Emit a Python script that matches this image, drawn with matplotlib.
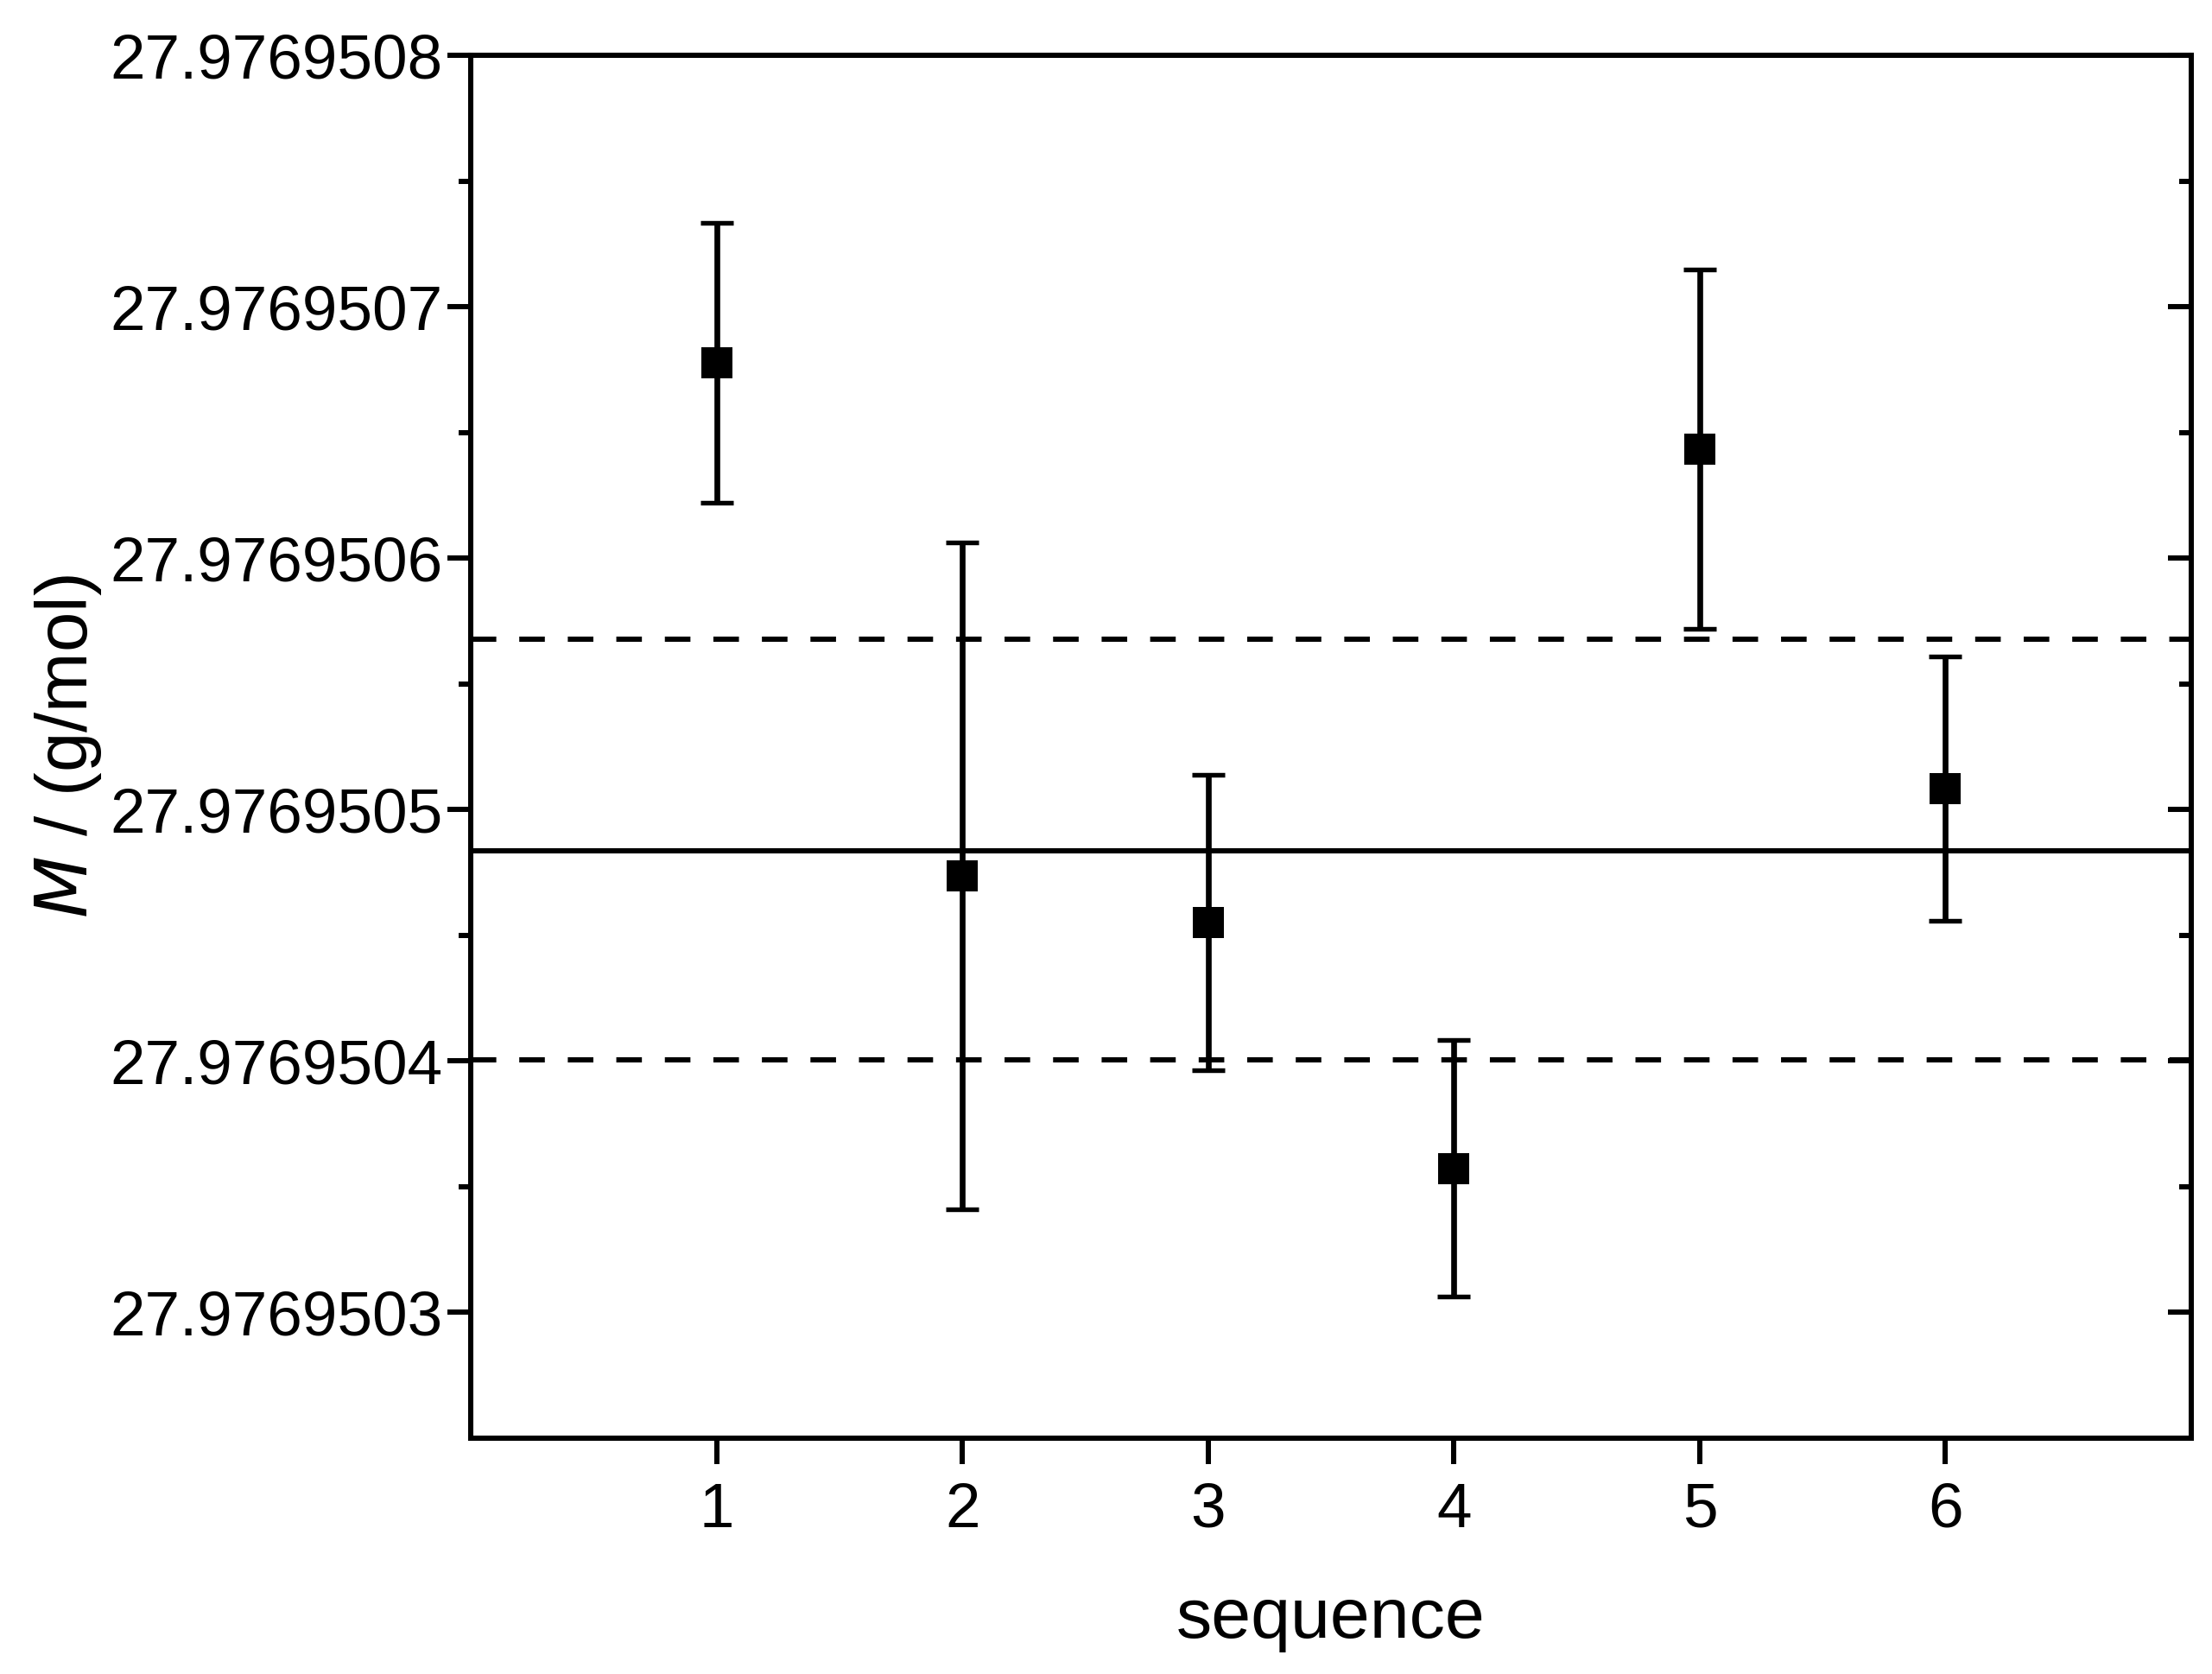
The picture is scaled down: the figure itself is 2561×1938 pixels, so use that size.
import matplotlib
matplotlib.use('Agg')
import matplotlib.pyplot as plt
from matplotlib.ticker import FormatStrFormatter, MultipleLocator

plt.rcParams['font.family'] = ['Liberation Sans', 'DejaVu Sans']

# molar mass per measurement sequence, g/mol
sequence = [1, 2, 3, 4, 5, 6]
molar_mass = [27.9769506777, 27.9769504736, 27.9769504551,
              27.9769503573, 27.9769506433, 27.9769505084]
mass_err = [0.555e-7, 1.326e-7, 0.587e-7, 0.509e-7, 0.714e-7, 0.526e-7]

mean_mass = 27.9769504837
band_upper = 27.9769505678
band_lower = 27.9769504005

x_ticks = [1, 2, 3, 4, 5, 6]

fig = plt.figure(figsize=(2561 / 300, 1938 / 300), dpi=300)
ax = fig.add_axes([545 / 2561, 1 - 1665 / 1938, (2537 - 545) / 2561, (1665 - 64) / 1938])

lw = 1.45
ax.axhline(mean_mass, color='black', lw=lw, zorder=2)
ax.axhline(band_upper, color='black', lw=lw, dashes=(4.9, 4.4), zorder=2)
ax.axhline(band_lower, color='black', lw=lw, dashes=(4.9, 4.4), zorder=2)

ax.errorbar(sequence, molar_mass, yerr=mass_err, fmt='none', ecolor='black',
            elinewidth=1.6, capsize=4.5, capthick=1.3, zorder=3)
ax.plot(sequence, molar_mass, 's', color='black', ms=8.6, mew=0, zorder=4)

ax.set_xlim(0, 7)
ax.set_ylim(27.97695025, 27.9769508)
ax.set_xticks(x_ticks)
ax.yaxis.set_major_locator(MultipleLocator(1e-7))
ax.yaxis.set_minor_locator(MultipleLocator(0.5e-7))
ax.yaxis.set_major_formatter(FormatStrFormatter('%.7f'))

for s in ax.spines.values():
    s.set_linewidth(1.45)

ax.tick_params(axis='x', which='major', direction='out', length=7.2, width=1.45,
               labelsize=17.5, pad=5, top=False)
ax.tick_params(axis='y', which='both', left=True, right=True, width=1.45)
ax.tick_params(axis='y', which='major', direction='out', length=6.5, labelsize=17.5, pad=1.2)
ax.tick_params(axis='y', which='minor', direction='out', length=3.4)
# right side ticks point inward
for t in ax.yaxis.get_major_ticks():
    t.tick2line.set_marker(matplotlib.lines.TICKLEFT)
for t in ax.yaxis.get_minor_ticks():
    t.tick2line.set_marker(matplotlib.lines.TICKLEFT)

ax.set_xlabel('sequence', fontsize=19.8, labelpad=13)
ax.set_ylabel(r'$\mathit{M}$ / (g/mol)', fontsize=20, labelpad=1.8)

fig.savefig('out.png', dpi=300)
